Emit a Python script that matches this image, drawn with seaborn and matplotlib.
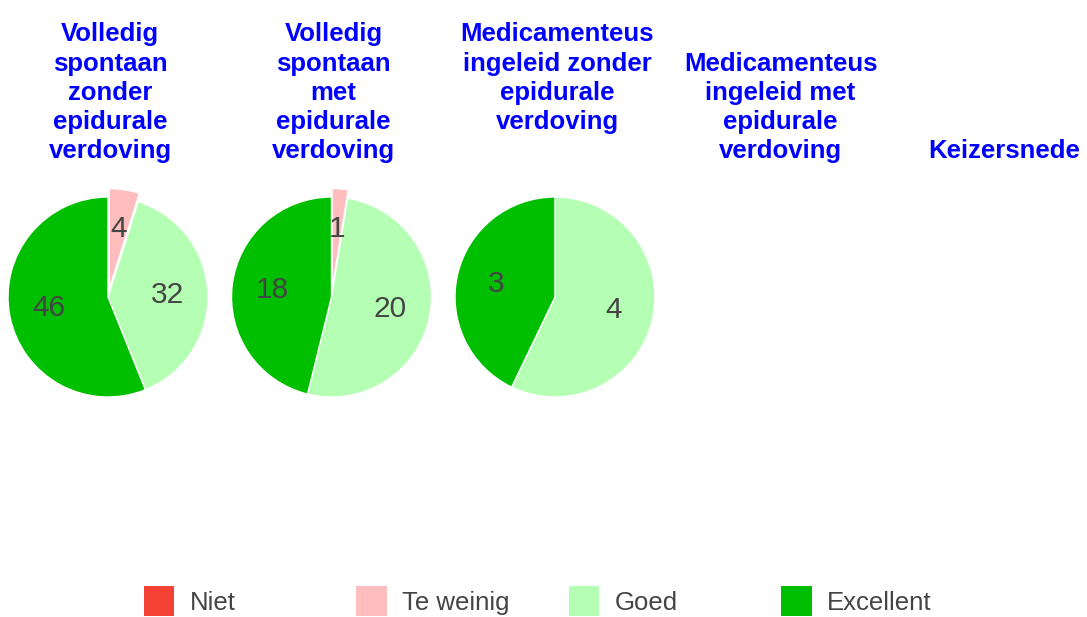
import matplotlib
matplotlib.use("Agg")
import matplotlib.pyplot as plt
from matplotlib.patches import Patch
import seaborn as sns

# ---- data ----
categories = ["Niet", "Te weinig", "Goed", "Excellent"]
groups = [
    "Volledig\nspontaan\nzonder\nepidurale\nverdoving",
    "Volledig\nspontaan\nmet\nepidurale\nverdoving",
    "Medicamenteus\ningeleid zonder\nepidurale\nverdoving\n",
    "Medicamenteus\ningeleid met\nepidurale\nverdoving",
    "Keizersnede",
]
niet = [0, 0, 0, 0, 0]
te_weinig = [4, 1, 0, 0, 0]
goed = [32, 20, 4, 0, 0]
excellent = [46, 18, 3, 0, 0]
colors = ["#F44336", "#FFBDBD", "#B5FFB5", "#00BF00"]

sns.set_theme(style="white")
plt.rcParams["font.family"] = ["Liberation Sans", "DejaVu Sans"]

W, H = 1087, 617
fig = plt.figure(figsize=(W / 100, H / 100), dpi=100)

col_w = 223.5
cx0 = 108
cy = 297
title_color = "#0000FF"
text_color = "#444444"

for i, g in enumerate(groups):
    cx = cx0 + col_w * i
    ax = fig.add_axes([(cx - col_w / 2) / W, (H - cy - col_w / 2) / H,
                       col_w / W, col_w / H])
    vals = [niet[i], te_weinig[i], goed[i], excellent[i]]
    total = sum(vals)
    if total > 0:
        idx = [k for k, v in enumerate(vals) if v > 0]
        v = [vals[k] for k in idx]
        c = [colors[k] for k in idx]
        ex = [0.085 if categories[k] == "Te weinig" else 0 for k in idx]
        ax.pie(v, colors=c, explode=ex, startangle=90, counterclock=False,
               radius=1.0,
               autopct=lambda p, t=total: f"{int(round(p * t / 100))}",
               pctdistance=0.6,
               wedgeprops=dict(edgecolor="white", linewidth=1),
               textprops=dict(color=text_color, fontsize=21.5))
    ax.set_xlim(-col_w / 200, col_w / 200)
    ax.set_ylim(-col_w / 200, col_w / 200)
    ax.set_aspect("equal")
    ax.axis("off")
    fig.text((cx + 2) / W, (H - 163) / H, g, ha="center", va="bottom",
             color=title_color, fontsize=18.5, fontweight="bold",
             linespacing=1.27)

# legend: one entry per fixed-width column
leg_x = [143, 355.5, 568, 780.5]
for k, cat in enumerate(categories):
    leg = fig.legend(handles=[Patch(facecolor=colors[k], edgecolor="none")],
                     labels=[cat], loc="lower left",
                     bbox_to_anchor=(leg_x[k] / W, 0.0 / H),
                     frameon=False, fontsize=18.5, handlelength=1.2,
                     handleheight=1.45, handletextpad=0.6,
                     borderpad=0, borderaxespad=0.02)
    for t in leg.get_texts():
        t.set_color(text_color)

fig.savefig("out.png", dpi=100)
